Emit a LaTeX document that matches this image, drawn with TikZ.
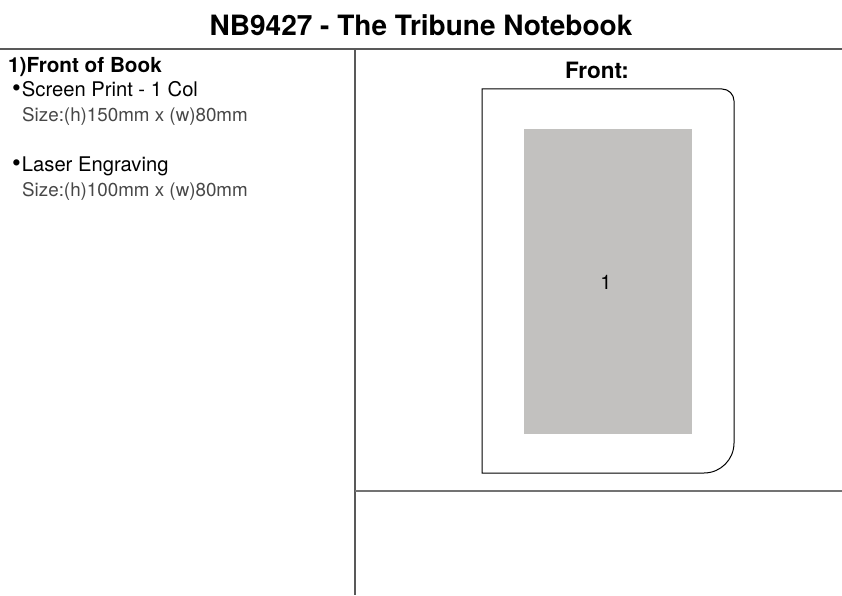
\documentclass[tikz,border=0pt]{standalone}
\usepackage{fontspec}
\setmainfont{TeX Gyre Heros}
\definecolor{printgray}{rgb}{0.76,0.757,0.749}
\definecolor{rulegray}{rgb}{0.35,0.35,0.35}
\newcommand{\smallbullet}{\raisebox{0.5pt}{\fontsize{25}{25}\selectfont\textbullet}\hspace{1pt}}

\begin{document}
\begin{tikzpicture}[x=1pt, y=1pt,
		heading/.style={inner sep=0pt, font=\bfseries},
		item/.style={inner sep=0pt, anchor=base west, font=\fontsize{20.2}{22}\selectfont},
		sizeline/.style={inner sep=0pt, anchor=base west, text=black!72, font=\fontsize{18.8}{22}\selectfont},
		frame/.style={rulegray, line width=1.2pt}]

				\useasboundingbox (0,0) rectangle (842,595);

				% title and rules
				\node[heading, anchor=base, font=\fontsize{28}{32}\selectfont\bfseries] (title) at (421,559) {NB9427 - The Tribune Notebook};
				\draw[frame] (0,546) -- (842,546);
				\draw[frame] (355,546) -- (355,0);
				\draw[frame, black!55, line width=1.6pt] (355,104) -- (842,104);

				% left column
				\node[heading, anchor=base west, font=\fontsize{20.7}{24}\selectfont\bfseries] (front) at (8,522) {1)Front of Book};
				\node[item] (screen) at (12,498) {\smallbullet Screen Print - 1 Col};
				\node[sizeline] (screensize) at (22,473) {Size:(h)150mm x (w)80mm};
				\node[item] (laser) at (12,423) {\smallbullet Laser Engraving};
				\node[sizeline] (lasersize) at (22,398) {Size:(h)100mm x (w)80mm};

				% notebook
				\node[heading, anchor=base, font=\fontsize{22.5}{26}\selectfont\bfseries] (fronttitle) at (597,516) {Front:};
				\draw[line width=1pt] (482,122) -- (482,506) -- (722,506) arc (90:0:12) -- (734,152) arc (0:-90:30) -- cycle;
				\fill[printgray] (524,161) rectangle (692,466);
				\node[inner sep=0pt, font=\fontsize{20}{24}\selectfont] (area) at (606,313) {1};

\end{tikzpicture}
\end{document}
